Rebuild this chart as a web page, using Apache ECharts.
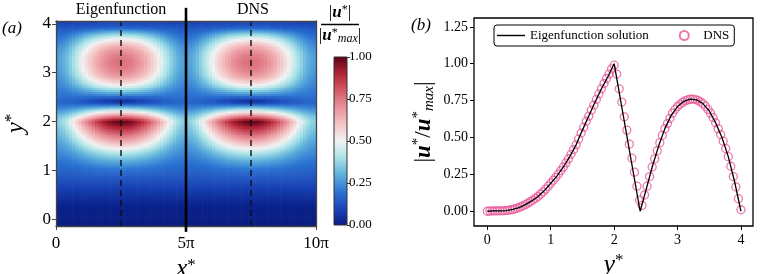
<!DOCTYPE html>
<html><head><meta charset="utf-8">
<script src="https://cdn.jsdelivr.net/npm/echarts@6/dist/echarts.min.js"></script>
<style>html,body{margin:0;padding:0;background:#fff}#c{width:763px;height:274px}</style>
</head><body><div id="c"></div>
<script>
const PI = Math.PI;
const FONT = 'Liberation Serif';

// ---------- panel (b): profile at x* = 2.5π ----------
const eigenY = [0,0.1,0.2,0.3,0.4,0.5,0.6,0.7,0.8,0.9,1.0,1.1,1.2,1.3,1.4,1.5,1.6,1.7,1.8,1.9,2.0,2.41,2.5,2.6,2.7,2.8,2.9,3.0,3.1,3.2,3.3,3.4,3.5,3.6,3.7,3.8,3.9,4.0];
const eigenV = [0,0.002,0.003,0.004,0.012,0.025,0.045,0.07,0.10,0.14,0.19,0.24,0.30,0.37,0.45,0.55,0.645,0.74,0.83,0.91,1.0,0.0,0.14,0.30,0.44,0.56,0.65,0.71,0.745,0.76,0.755,0.73,0.68,0.60,0.50,0.37,0.20,0.0];

const dnsY = [0,0.04,0.08,0.12,0.16,0.20,0.24,0.28,0.32,0.36,
  0.40,0.44,0.48,0.52,0.56,0.60,0.64,0.68,0.72,0.76,
  0.80,0.84,0.88,0.92,0.96,1.00,1.04,1.08,1.12,1.16,
  1.20,1.24,1.28,1.32,1.36,1.40,1.44,1.48,1.52,1.56,
  1.60,1.64,1.68,1.72,1.76,1.80,1.84,1.88,1.92,1.96,
  2.00,2.04,2.08,2.12,2.16,2.20,2.24,2.28,2.32,2.36,
  2.40,2.44,2.48,2.52,2.56,2.60,2.64,2.68,2.72,2.76,
  2.80,2.84,2.88,2.92,2.96,3.00,3.04,3.08,3.12,3.16,
  3.20,3.24,3.28,3.32,3.36,3.40,3.44,3.48,3.52,3.56,
  3.60,3.64,3.68,3.72,3.76,3.80,3.84,3.88,3.92,3.96,4.00];
const dnsV = [0,0.001,0.002,0.002,0.003,0.003,0.003,0.004,0.006,0.009,
  0.012,0.017,0.022,0.029,0.037,0.045,0.055,0.065,0.076,0.088,
  0.10,0.116,0.132,0.15,0.17,0.19,0.21,0.23,0.252,0.276,
  0.30,0.328,0.356,0.386,0.418,0.45,0.49,0.53,0.57,0.61,
  0.645,0.685,0.72,0.758,0.795,0.83,0.866,0.9,0.93,0.965,
  0.99,0.93,0.83,0.74,0.64,0.55,0.455,0.36,0.265,0.17,
  0.075,0.04,0.11,0.17,0.235,0.30,0.355,0.41,0.465,0.515,
  0.56,0.595,0.63,0.665,0.69,0.71,0.725,0.738,0.748,0.755,
  0.76,0.76,0.757,0.752,0.742,0.73,0.712,0.69,0.665,0.635,
  0.60,0.56,0.52,0.475,0.425,0.37,0.305,0.235,0.165,0.085,0.01];

// ---------- panel (a): field ----------
const heatColsHalf = [0.196,0.589,0.982,1.374,1.767,2.160,2.553,2.945,3.338,3.731,
  4.123,4.516,4.909,5.301,5.694,6.087,6.480,6.872,7.265,7.658,
  8.050,8.443,8.836,9.228,9.621,10.014,10.407,10.799,11.192,11.585,
  11.977,12.370,12.763,13.155,13.548,13.941,14.334,14.726,15.119,15.512];
const heatXWeight = [0.039,0.118,0.195,0.271,0.346,0.419,0.489,0.556,0.619,0.679,
  0.734,0.785,0.831,0.872,0.908,0.938,0.962,0.981,0.993,0.999,
  0.999,0.993,0.981,0.962,0.938,0.908,0.872,0.831,0.785,0.734,
  0.679,0.619,0.556,0.489,0.419,0.346,0.271,0.195,0.118,0.039];
const halfOffsets = [0, 5 * PI];   // Eigenfunction half, DNS half
const heatRowsY = [-0.12,-0.08,-0.04].concat(dnsY, [4.04]);
const heatCentre = [0,0,0,
  0,0.002,0.004,0.006,0.008,0.01,0.014,0.018,0.024,0.03,
  0.038,0.046,0.054,0.062,0.07,0.078,0.086,0.095,0.104,0.114,
  0.124,0.136,0.148,0.162,0.177,0.193,0.21,0.23,0.252,0.276,
  0.30,0.328,0.356,0.386,0.418,0.45,0.49,0.53,0.57,0.61,
  0.645,0.685,0.72,0.758,0.795,0.83,0.866,0.9,0.93,0.965,
  0.99,0.93,0.83,0.74,0.64,0.55,0.455,0.36,0.265,0.17,
  0.08,0.055,0.12,0.175,0.24,0.30,0.355,0.41,0.465,0.515,
  0.56,0.595,0.63,0.665,0.69,0.71,0.725,0.738,0.748,0.755,
  0.76,0.76,0.757,0.752,0.742,0.73,0.712,0.69,0.665,0.635,
  0.60,0.56,0.52,0.475,0.425,0.37,0.31,0.245,0.185,0.145,
  0.125,0.12];
const heatEdge = [0,0,0,
  0,0,0.003,0.005,0.008,0.01,0.014,0.018,0.024,0.03,
  0.04,0.048,0.056,0.064,0.072,0.08,0.088,0.096,0.104,0.112,
  0.12,0.128,0.136,0.144,0.152,0.16,0.168,0.176,0.184,0.192,
  0.2,0.208,0.216,0.224,0.232,0.24,0.248,0.256,0.264,0.272,
  0.28,0.288,0.296,0.304,0.312,0.32,0.328,0.336,0.344,0.352,
  0.36,0.355,0.345,0.33,0.305,0.28,0.255,0.23,0.21,0.19,
  0.17,0.17,0.18,0.19,0.195,0.2,0.207,0.215,0.222,0.23,
  0.235,0.24,0.245,0.25,0.255,0.26,0.263,0.266,0.268,0.27,
  0.27,0.27,0.27,0.268,0.265,0.262,0.258,0.253,0.246,0.238,
  0.23,0.22,0.21,0.198,0.186,0.175,0.163,0.152,0.14,0.125,
  0.11,0.1];

const dashX = [2.5 * PI, 7.5 * PI];
const dashYRange = [-0.14, 4.06];
const dividerX = 5 * PI;
const dividerYRange = [-0.26, 4.33];

const heatXTicks = [0, 5 * PI, 10 * PI];
const heatXLabels = ['0', '5π', '10π'];
const heatYTicks = [0, 1, 2, 3, 4];
const profXTicks = [0, 1, 2, 3, 4];
const profYTicks = [0, 0.25, 0.5, 0.75, 1.0, 1.25];
const cbarTicks = [0, 0.25, 0.5, 0.75, 1.0];

const cmap = ['#081c82','#1a45b8','#2c74d2','#5eb0dc','#a8e2e6','#f3f3f3','#f4c4c4','#e8929a','#d45a68','#b02436','#5c0018'];

const CELL_W = 5 * PI / heatColsHalf.length;
const CELL_H = 0.04;

const heatData = [];
halfOffsets.forEach(off => {
  heatColsHalf.forEach((cx, i) => {
    const s = heatXWeight[i], c = Math.sqrt(1 - s * s);
    heatRowsY.forEach((ry, j) => {
      const v = Math.sqrt(Math.pow(heatCentre[j] * s, 2) + Math.pow(heatEdge[j] * c, 2));
      heatData.push([cx + off, ry, v]);
    });
  });
});

const chart = echarts.init(document.getElementById('c'), null, {renderer: 'canvas'});
const txt = (size, extra) => Object.assign({fontFamily: FONT, fontSize: size, color: '#000'}, extra || {});

const option = {
  animation: false,
  backgroundColor: '#fff',
  grid: [
    {left: 56, top: 21, width: 260, height: 205, outerBoundsMode: 'none', containLabel: false},
    {left: 334, top: 57, width: 13, height: 168, outerBoundsMode: 'none', containLabel: false},
    {left: 474, top: 18, width: 279, height: 208, outerBoundsMode: 'none', containLabel: false, show: true, borderColor: '#000', borderWidth: 1.3, backgroundColor: 'transparent'}
  ],
  visualMap: {show: false, type: 'continuous', seriesIndex: 0, dimension: 2, min: 0, max: 1, inRange: {color: cmap}},
  xAxis: [
    {gridIndex: 0, type: 'value', min: 0, max: 10 * PI, z: 5,
      axisLine: {show: true, onZero: false, lineStyle: {color: '#444', width: 1.3}},
      axisTick: {show: true, customValues: heatXTicks, length: 4, lineStyle: {color: '#444'}},
      axisLabel: {show: true, customValues: heatXTicks, margin: 9, formatter: v => heatXLabels[heatXTicks.findIndex(t => Math.abs(t - v) < 1e-6)] || '', ...txt(17)},
      splitLine: {show: false},
      name: '{i|x}{s|*}', nameLocation: 'middle', nameGap: 25,
      nameTextStyle: {rich: {i: txt(25, {fontStyle: 'italic', lineHeight: 26}), s: txt(17, {verticalAlign: 'top', lineHeight: 26})}}},
    {gridIndex: 0, type: 'value', min: 0, max: 10 * PI, position: 'top', z: 5,
      axisLine: {show: true, onZero: false, lineStyle: {color: '#444', width: 1.3}}, axisTick: {show: false}, axisLabel: {show: false}, splitLine: {show: false}},
    {gridIndex: 1, type: 'value', min: 0, max: 1, show: false},
    {gridIndex: 2, type: 'value', min: -0.21, max: 4.19,
      axisLine: {show: false, onZero: false},
      axisTick: {show: true, customValues: profXTicks, length: 4, lineStyle: {color: '#000'}},
      axisLabel: {show: true, customValues: profXTicks, margin: 7, formatter: v => String(Math.round(v)), ...txt(14)},
      splitLine: {show: false},
      name: '{i|y}{s|*}', nameLocation: 'middle', nameGap: 17,
      nameTextStyle: {rich: {i: txt(26, {fontStyle: 'italic', lineHeight: 26}), s: txt(17, {verticalAlign: 'top', lineHeight: 26})}}}
  ],
  yAxis: [
    {gridIndex: 0, type: 'value', min: -0.14, max: 4.06, z: 5,
      axisLine: {show: true, onZero: false, lineStyle: {color: '#444', width: 1.3}},
      axisTick: {show: true, customValues: heatYTicks, length: 4, lineStyle: {color: '#444'}},
      axisLabel: {show: true, customValues: heatYTicks, margin: 5, formatter: v => String(Math.round(v)), ...txt(17)},
      splitLine: {show: false},
      name: '{i|y}{s|*}', nameLocation: 'middle', nameGap: 27, nameRotate: 90,
      nameTextStyle: {rich: {i: txt(25, {fontStyle: 'italic', lineHeight: 26}), s: txt(17, {verticalAlign: 'top', lineHeight: 26})}}},
    {gridIndex: 0, type: 'value', min: -0.14, max: 4.06, position: 'right', z: 5,
      axisLine: {show: true, onZero: false, lineStyle: {color: '#444', width: 1.3}}, axisTick: {show: false}, axisLabel: {show: false}, splitLine: {show: false}},
    {gridIndex: 1, type: 'value', min: 0, max: 1, position: 'right',
      axisLine: {show: false, onZero: false},
      axisTick: {show: true, customValues: cbarTicks, length: 3, lineStyle: {color: '#333'}},
      axisLabel: {show: true, customValues: cbarTicks, margin: 2, formatter: v => v.toFixed(2), ...txt(13)},
      splitLine: {show: false}},
    {gridIndex: 2, type: 'value', min: -0.1, max: 1.31,
      axisLine: {show: false, onZero: false},
      axisTick: {show: true, customValues: profYTicks, length: 4, lineStyle: {color: '#000'}},
      axisLabel: {show: true, customValues: profYTicks, margin: 6, formatter: v => v.toFixed(2), ...txt(14)},
      splitLine: {show: false},
      name: '|{b|u}{s|*}/{b|u}{s|*}{m|max}|', nameLocation: 'middle', nameGap: 37, nameRotate: 90,
      nameTextStyle: {fontFamily: FONT, fontSize: 23, color: '#000', rich: {
        b: txt(23, {fontStyle: 'italic', fontWeight: 'bold', lineHeight: 26}),
        s: txt(15, {verticalAlign: 'top', lineHeight: 26}),
        m: txt(15, {fontStyle: 'italic', verticalAlign: 'bottom', lineHeight: 26})}}}
  ],
  legend: {
    left: 494, top: 25, orient: 'horizontal', itemWidth: 28, itemHeight: 9, itemGap: 30, symbolKeepAspect: true,
    borderColor: '#000', borderWidth: 1, borderRadius: 3, padding: [4, 5, 4, 3], backgroundColor: '#fff',
    textStyle: txt(13),
    data: [{name: 'Eigenfunction solution', icon: 'path://M0,0 H40 V2 H0 Z', itemStyle: {color: '#000'}}, {name: 'DNS'}]
  },
  graphic: [
    {type: 'text', x: 121, y: 10, style: {text: 'Eigenfunction', align: 'center', verticalAlign: 'middle', font: '16px "Liberation Serif"', fill: '#000'}},
    {type: 'text', x: 253, y: 10, style: {text: 'DNS', align: 'center', verticalAlign: 'middle', font: '16px "Liberation Serif"', fill: '#000'}},
    {type: 'text', x: 12, y: 29, style: {text: '(a)', align: 'center', verticalAlign: 'middle', font: 'italic 17px "Liberation Serif"', fill: '#000'}},
    {type: 'text', x: 421, y: 26, style: {text: '(b)', align: 'center', verticalAlign: 'middle', font: 'italic 17px "Liberation Serif"', fill: '#000'}},
    {type: 'text', x: 340, y: 13, style: {text: '|{b|u}{s|*}|', align: 'center', verticalAlign: 'middle', font: '17px "Liberation Serif"', fill: '#000',
      rich: {b: {font: 'italic bold 17px "Liberation Serif"', lineHeight: 18}, s: {font: '12px "Liberation Serif"', verticalAlign: 'top', lineHeight: 18}}}},
    {type: 'line', shape: {x1: 321, y1: 24.5, x2: 359, y2: 24.5}, style: {stroke: '#000', lineWidth: 1.3}},
    {type: 'text', x: 340, y: 36, style: {text: '|{b|u}{s|*}{m|max}|', align: 'center', verticalAlign: 'middle', font: '17px "Liberation Serif"', fill: '#000',
      rich: {b: {font: 'italic bold 17px "Liberation Serif"', lineHeight: 18}, s: {font: '12px "Liberation Serif"', verticalAlign: 'top', lineHeight: 18},
        m: {font: 'italic 12px "Liberation Serif"', verticalAlign: 'bottom', lineHeight: 18}}}}
  ],
  series: [
    {type: 'custom', name: 'field', xAxisIndex: 0, yAxisIndex: 0, data: heatData, encode: {x: 0, y: 1}, clip: true, z: 1, silent: true, progressive: 0,
      renderItem: (params, api) => {
        const x = api.value(0), y = api.value(1);
        const p = api.coord([x - CELL_W / 2, y + CELL_H / 2]);
        const sz = api.size([CELL_W, CELL_H]);
        return {type: 'rect', shape: {x: p[0], y: p[1], width: sz[0] + 0.6, height: sz[1] + 0.6}, style: {fill: api.visual('color')}};
      }},
    ...dashX.map(dx => ({type: 'line', xAxisIndex: 0, yAxisIndex: 0, symbol: 'none', silent: true, z: 3,
      data: dashYRange.map(y => [dx, y]), lineStyle: {color: '#111', width: 1.4, type: [6, 4]}})),
    {type: 'line', xAxisIndex: 0, yAxisIndex: 0, symbol: 'none', silent: true, z: 6, clip: false,
      data: dividerYRange.map(y => [dividerX, y]), lineStyle: {color: '#000', width: 2.6}},
    {type: 'custom', name: 'cbar', xAxisIndex: 2, yAxisIndex: 2, data: [[0, 0]], silent: true,
      renderItem: (params, api) => {
        const p0 = api.coord([0, 1]);
        const p1 = api.coord([1, 0]);
        const stops = cmap.map((c, i) => ({offset: 1 - i / (cmap.length - 1), color: c})).reverse();
        return {type: 'rect', shape: {x: p0[0], y: p0[1], width: p1[0] - p0[0], height: p1[1] - p0[1]},
          style: {fill: new echarts.graphic.LinearGradient(0, 0, 0, 1, stops), stroke: '#333', lineWidth: 1}};
      }},
    {type: 'scatter', name: 'DNS', xAxisIndex: 3, yAxisIndex: 3, symbol: 'circle', symbolSize: 8,
      data: dnsY.map((y, i) => [y, dnsV[i]]),
      itemStyle: {color: 'rgba(0,0,0,0)', borderColor: '#e8589a', borderWidth: 1.3}, z: 3},
    {type: 'line', name: 'Eigenfunction solution', xAxisIndex: 3, yAxisIndex: 3, symbol: 'none', showSymbol: false,
      data: eigenY.map((y, i) => [y, eigenV[i]]), lineStyle: {color: '#000', width: 1.3}, itemStyle: {color: '#000'}, z: 4}
  ]
};
chart.setOption(option);
</script></body></html>
